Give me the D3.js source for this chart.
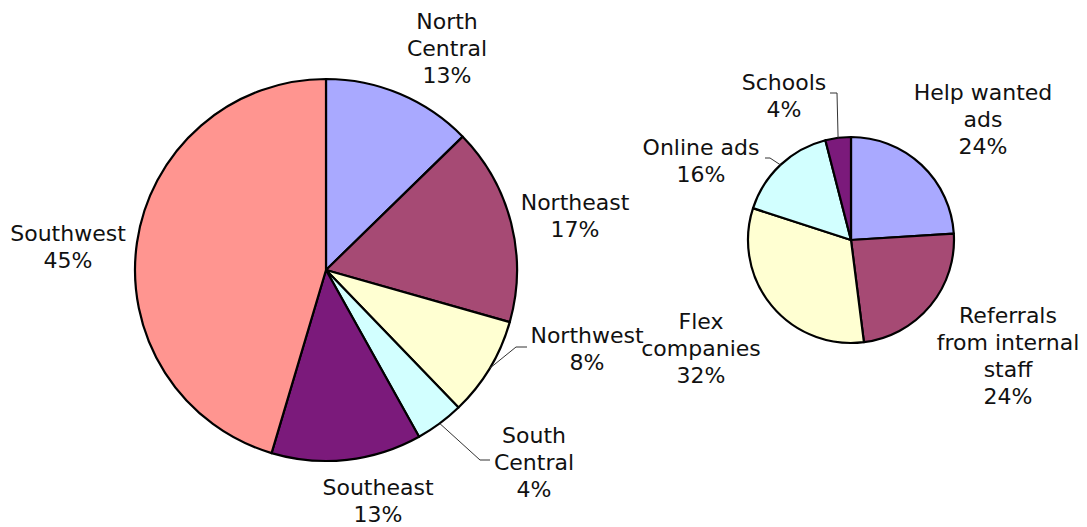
<!DOCTYPE html>
<html>
<head>
<meta charset="utf-8">
<script src="https://cdn.jsdelivr.net/npm/d3@7"></script>
<style>
  body { margin: 0; background: #fff; }
  text { font-family: "DejaVu Sans", Verdana, sans-serif; font-size: 22px; fill: #111; }
</style>
</head>
<body>
<script>
var width = 1087,
    height = 527

// region pie
var regionNames = ['North\nCentral', 'Northeast', 'Northwest', 'South\nCentral', 'Southeast', 'Southwest']
var regionValues = [12.7, 16.7, 8.4, 4.1, 12.7, 45.4]
var regionColors = ['#a9a9ff', '#a64a74', '#ffffd2', '#d2ffff', '#7b1a7b', '#ff9590']

// source pie
var sourceNames = ['Help wanted\nads', 'Referrals\nfrom internal\nstaff', 'Flex\ncompanies', 'Online ads', 'Schools']
var sourceValues = [24, 24, 32, 16, 4]
var sourceColors = ['#a9a9ff', '#a64a74', '#ffffd2', '#d2ffff', '#7b1a7b']

// label block centres, relative to each pie's centre
var regionLabelPos = [[121, -222], [249, -55], [261, 78], [208, 192], [52, 230], [-258, -24]]
var sourceLabelPos = [[132, -121], [157, 115], [-150, 108], [-150, -80], [-67, -145]]
// leader lines: [elbow, end] relative to centre, null when none
var regionLeaders = [null, null, [[190, 77], [201, 77]], [[154, 190], [164, 190]], null, null]
var sourceLeaders = [null, null, null, [[-81, -82], [-86, -82]], [[-14, -147], [-21, -147]]]

var svg = d3.select('body').append('svg')
    .attr('width', width)
    .attr('height', height)

function drawPie(cx, cy, r, names, values, colors, labelPos, leaders) {
    var pie = d3.pie().sort(null).value(d => d)
    var arcs = pie(values)
    var arc = d3.arc().innerRadius(0).outerRadius(r)
    var total = d3.sum(values)

    var g = svg.append('g')
        .attr('transform', 'translate(' + cx + ',' + cy + ')')

    g.selectAll('path.slice')
        .data(arcs)
        .enter().append('path')
        .attr('class', 'slice')
        .attr('d', arc)
        .attr('fill', (d, i) => colors[i])
        .attr('stroke', '#000')
        .attr('stroke-width', 2.2)
        .attr('stroke-linejoin', 'round')

    // leader lines
    arcs.forEach((d, i) => {
        if (!leaders[i]) return
        var a = (d.startAngle + d.endAngle) / 2
        var p0 = [r * Math.sin(a), -r * Math.cos(a)]
        g.append('path')
            .attr('d', d3.line()([p0, leaders[i][0], leaders[i][1]]))
            .attr('fill', 'none')
            .attr('stroke', '#333')
            .attr('stroke-width', 1)
    })

    // labels
    arcs.forEach((d, i) => {
        var lines = names[i].split('\n')
        lines.push(Math.round(values[i] / total * 100) + '%')
        var lh = 27
        var top = labelPos[i][1] - (lines.length - 1) * lh / 2 + 8
        var t = g.append('text')
            .attr('text-anchor', 'middle')
        lines.forEach((s, j) => {
            t.append('tspan')
                .attr('x', labelPos[i][0])
                .attr('y', top + j * lh)
                .text(s)
        })
    })
}

drawPie(326, 270, 191, regionNames, regionValues, regionColors, regionLabelPos, regionLeaders)
drawPie(851, 240, 103, sourceNames, sourceValues, sourceColors, sourceLabelPos, sourceLeaders)
</script>
</body>
</html>
